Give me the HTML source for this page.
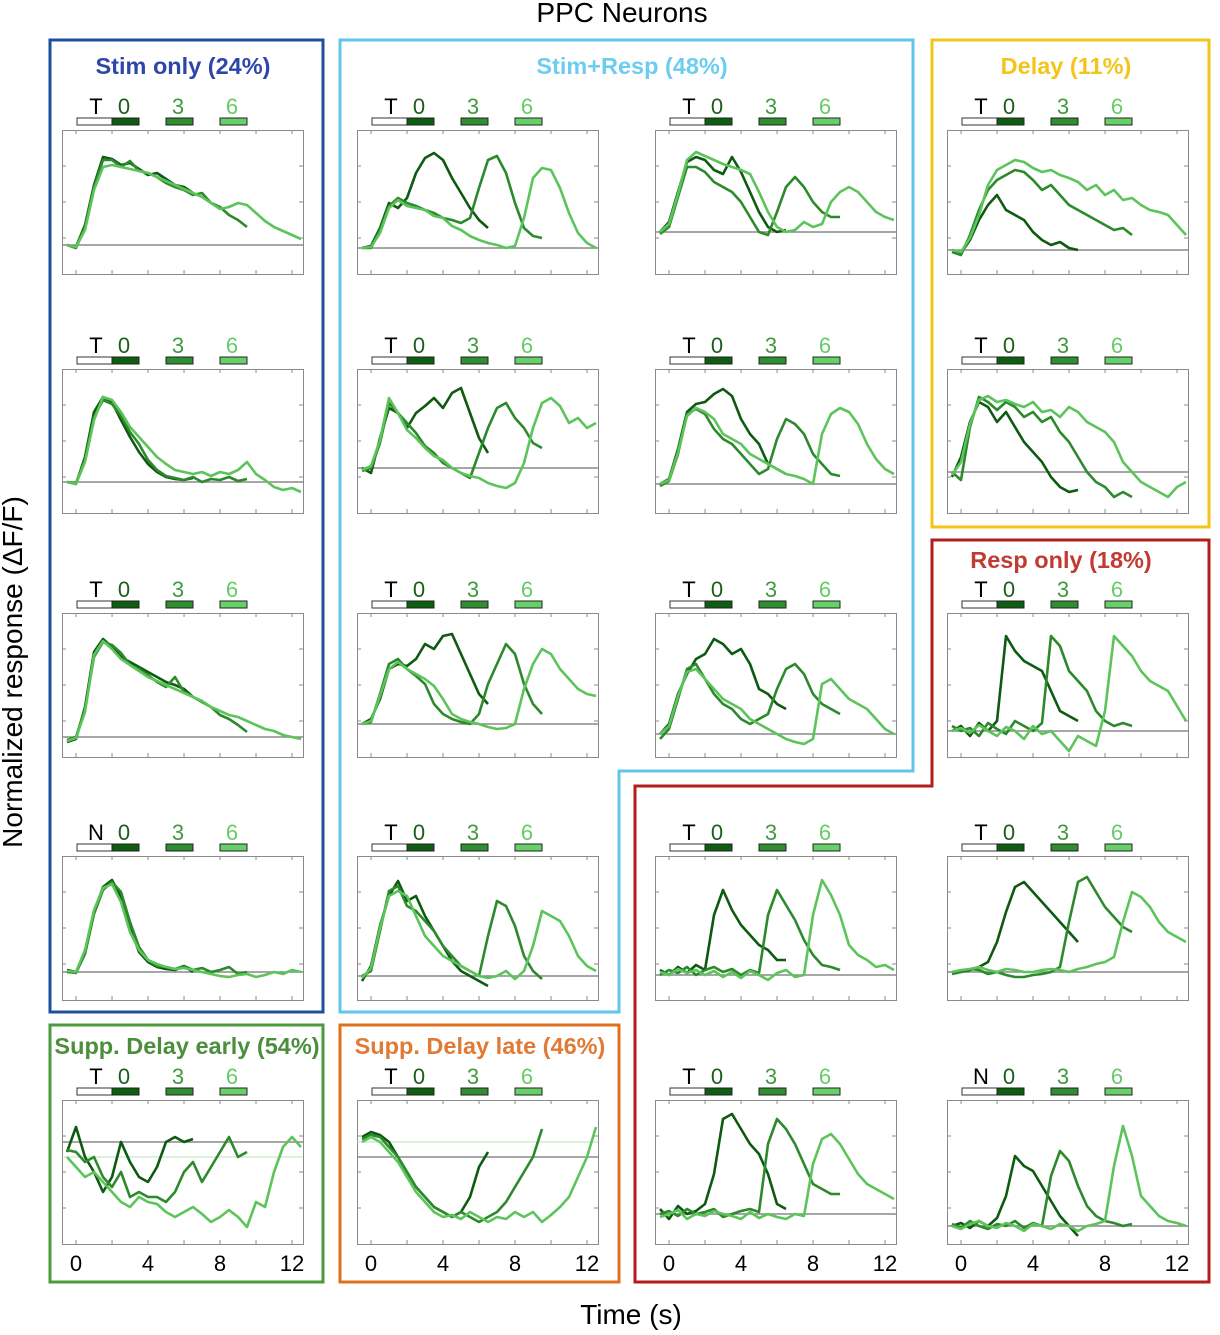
<!DOCTYPE html>
<html><head><meta charset="utf-8">
<style>
html,body{margin:0;padding:0;background:#fff;}
svg{display:block;font-family:"Liberation Sans",Arial,sans-serif;}
</style></head>
<body>
<svg id="fig" width="1220" height="1335" viewBox="0 0 1220 1335" xmlns="http://www.w3.org/2000/svg">
<text x="622" y="22" text-anchor="middle" font-size="28">PPC Neurons</text>
<text transform="translate(22,672) rotate(-90)" text-anchor="middle" font-size="28">Normalized response (ΔF/F)</text>
<text x="631" y="1324" text-anchor="middle" font-size="28">Time (s)</text>

<rect x="50" y="40" width="273" height="972" fill="none" stroke="#1d4f9c" stroke-width="3"/>
<text x="183" y="74" text-anchor="middle" font-size="23.5" font-weight="bold" fill="#2e46a8">Stim only (24%)</text>
<path d="M340,40 H913 V771 H619 V1012 H340 Z" fill="none" stroke="#62c6ea" stroke-width="3"/>
<text x="632" y="74" text-anchor="middle" font-size="23.5" font-weight="bold" fill="#6dcdf0">Stim+Resp (48%)</text>
<rect x="932" y="40" width="277" height="487" fill="none" stroke="#f3c41a" stroke-width="3"/>
<text x="1066" y="74" text-anchor="middle" font-size="23.5" font-weight="bold" fill="#f3c41a">Delay (11%)</text>
<path d="M932,540 H1209 V1282 H635 V786 H932 Z" fill="none" stroke="#b31d1d" stroke-width="3"/>
<text x="1061" y="568" text-anchor="middle" font-size="23.5" font-weight="bold" fill="#c23a32">Resp only (18%)</text>
<rect x="50" y="1025" width="273" height="257" fill="none" stroke="#4b9a3c" stroke-width="3"/>
<text x="187" y="1054" text-anchor="middle" font-size="23.5" font-weight="bold" fill="#4b8e3c">Supp. Delay early (54%)</text>
<rect x="340" y="1025" width="279" height="257" fill="none" stroke="#e0701e" stroke-width="3"/>
<text x="480" y="1054" text-anchor="middle" font-size="23.5" font-weight="bold" fill="#e07a34">Supp. Delay late (46%)</text>
<g id="panels"></g>
</svg>
<script>
// time grid: t = -0.5 + 0.5*i ; trace "0" to 6.5 s, "3" to 9.5 s, "6" to 12.5 s
const tickTimes = [0,2,4,6,8,10,12];
const tickLabels = ["0","4","8","12"];
const tickLabelTimes = [0,4,8,12];
const delays = ["0","3","6"];
// values: response above baseline (plot height = 144 units)
const a1_0=[0,-2,20,60,88,86,80,82,76,70,72,66,60,58,52];
const a1_3=[0,-3,18,58,85,85,78,84,74,72,68,62,58,55,50,52,42,38,30,25,18];
const a1_6=[0,-2,15,55,78,80,78,76,74,72,68,64,60,56,52,48,42,36,38,42,40,32,24,18,14,10,6];
const a2_0=[0,-2,25,70,85,80,62,45,30,18,10,5,3,2,4];
const a2_3=[0,-1,22,65,82,78,66,50,38,22,12,6,4,2,5,0,3,2,5,1,3];
const a2_6=[0,-2,20,62,85,82,70,55,45,35,25,18,12,10,8,10,6,10,8,12,20,8,2,-5,-8,-6,-10];
const a3_0=[-5,-2,30,85,98,90,80,75,70,65,60,55,52,48,40];
const a3_3=[-3,0,28,80,95,92,84,72,68,62,55,50,60,45,40,35,30,22,18,12,5];
const a3_6=[-4,-1,25,82,96,88,78,72,66,60,56,52,48,44,40,36,30,26,22,20,16,12,8,6,2,0,-2];
const a4_0=[2,0,20,60,85,92,75,45,20,10,5,3,2,6,0];
const a4_3=[0,-1,18,58,82,90,80,50,25,12,6,5,3,6,2,4,0,2,5,-2,0];
const a4_6=[1,0,22,62,84,88,70,40,22,12,8,5,3,4,2,0,-2,-4,-5,-3,-2,-5,-3,0,-2,2,0];
const a5_0=[-10,15,-15,-30,-50,-35,0,-20,-35,-40,-25,0,5,0,3];
const a5_3=[-8,-10,-20,-15,-35,-45,-30,-55,-50,-55,-55,-60,-50,-30,-20,-40,-25,-10,5,-15,-10];
const a5_6=[-15,-25,-35,-30,-40,-50,-60,-65,-55,-60,-62,-70,-75,-70,-65,-72,-80,-75,-68,-75,-85,-60,-65,-30,-5,5,-5];
const b1_0=[0,2,20,45,40,50,75,90,95,88,70,55,40,28,20];
const b1_3=[0,0,18,42,50,45,42,38,35,30,28,25,30,60,88,92,75,45,20,12,10];
const b1_6=[0,1,15,40,48,42,40,38,32,30,22,18,12,8,5,3,0,2,30,70,80,78,60,35,15,5,0];
const b2_0=[0,-5,30,60,55,40,55,62,70,60,75,80,55,30,15];
const b2_3=[-3,0,25,65,55,45,35,22,15,5,0,-5,-10,15,40,60,65,50,40,25,20];
const b2_6=[-2,2,28,70,55,38,30,20,12,8,0,-5,-8,-10,-15,-18,-20,-15,5,40,65,70,62,45,50,40,45];
const b3_0=[0,5,25,55,60,58,65,80,75,88,90,70,50,30,20];
const b3_3=[0,2,30,60,65,55,48,40,20,10,5,2,0,10,40,60,80,70,40,20,10];
const b3_6=[0,3,28,55,62,55,50,45,38,25,10,5,2,0,-3,-5,-4,0,35,60,75,70,55,45,35,30,28];
const b4_0=[-5,10,50,80,95,75,80,60,45,30,15,5,0,-5,-10];
const b4_3=[0,5,45,85,90,70,65,55,45,30,20,10,5,0,40,75,70,50,20,5,-3];
const b4_6=[-2,8,48,80,85,80,60,40,30,20,15,10,5,0,-2,0,5,-3,5,30,65,60,55,40,20,10,5];
const b5_0=[20,25,22,15,0,-15,-30,-40,-50,-55,-60,-55,-40,-10,5];
const b5_3=[18,22,20,10,0,-15,-30,-40,-50,-55,-60,-55,-60,-65,-60,-55,-45,-30,-15,0,28];
const b5_6=[15,20,15,5,-5,-20,-35,-45,-55,-60,-58,-62,-55,-60,-65,-60,-62,-55,-60,-55,-65,-58,-50,-40,-20,0,30];
const c1_0=[0,10,40,70,75,72,62,58,75,60,40,20,5,0,2];
const c1_3=[-2,5,35,65,65,60,50,45,40,30,15,0,-3,20,45,55,45,30,20,15,15];
const c1_6=[0,8,38,72,80,76,72,68,65,62,58,40,20,5,0,2,10,5,8,30,40,45,40,30,20,15,12];
const c2_0=[0,5,35,72,80,82,90,95,88,65,50,40,20,15,10];
const c2_3=[-2,3,30,70,75,70,55,45,40,30,20,10,15,45,65,60,50,30,20,10,8];
const c2_6=[0,4,32,68,76,72,65,50,45,40,30,25,20,15,10,8,5,0,50,70,76,72,60,40,25,15,10];
const c3_0=[0,10,40,60,75,80,95,90,80,85,70,45,40,30,25];
const c3_3=[-5,5,35,65,70,55,40,30,25,15,10,15,20,45,65,70,60,40,30,25,20];
const c3_6=[0,8,38,62,65,55,45,35,30,25,15,10,5,0,-5,-8,-10,-5,50,55,45,35,30,25,15,5,0];
const c4_0=[5,0,8,2,10,5,60,85,65,50,40,30,25,15,15];
const c4_3=[0,5,2,8,0,5,8,3,6,0,5,2,60,85,70,55,35,20,10,8,5];
const c4_6=[3,0,6,2,5,0,4,-2,3,-3,4,0,-5,2,5,-2,0,60,95,80,60,30,20,15,8,10,5];
const c5_0=[5,-5,8,0,3,10,40,95,100,85,70,60,40,10,5];
const c5_3=[0,3,-2,5,0,2,5,-3,0,3,5,2,70,95,85,70,50,30,25,20,20];
const c5_6=[-3,0,4,-5,0,-2,3,0,-2,-5,2,-4,0,-3,-5,0,-2,50,75,80,70,55,40,30,25,20,15];
const d1_0=[0,-3,10,30,45,55,40,35,30,18,10,5,8,2,0];
const d1_3=[-2,-5,15,40,60,70,75,80,78,70,60,65,55,45,40,35,30,25,20,22,15];
const d1_6=[0,-2,12,35,65,80,85,90,88,82,78,80,75,72,68,60,65,55,60,50,52,45,40,38,35,25,15];
const d2_0=[-5,15,50,70,65,50,60,45,30,20,10,-5,-15,-20,-18];
const d2_3=[0,-8,45,75,70,62,70,65,55,60,50,55,40,30,15,0,-10,-15,-25,-20,-25];
const d2_6=[-3,10,48,72,76,70,72,68,65,70,60,62,55,65,60,50,45,40,30,10,0,-10,-15,-20,-25,-15,-10];
const d3_0=[0,5,-5,8,0,10,95,80,70,65,60,40,20,15,10];
const d3_3=[5,0,3,-5,8,2,-3,10,5,0,8,95,85,60,50,40,20,10,5,8,5];
const d3_6=[0,3,-2,6,0,-5,4,0,-8,5,-3,0,-10,-20,-5,-10,-15,20,95,85,75,60,50,45,40,25,10];
const d4_0=[0,0,2,5,10,30,60,85,90,80,70,60,50,40,30];
const d4_3=[-2,0,3,2,-2,0,-3,-5,-5,-3,-2,0,5,50,90,95,80,65,55,45,40];
const d4_6=[0,2,3,5,2,0,3,2,0,0,2,3,2,0,3,5,8,10,15,50,80,75,65,50,40,35,30];
const d5_0=[0,3,-2,5,0,8,30,70,60,55,40,25,10,0,-10];
const d5_3=[2,-2,5,0,-3,2,0,5,-2,3,0,50,75,65,40,20,10,5,3,0,2];
const d5_6=[0,-3,2,5,0,-2,3,0,-5,2,0,-3,2,0,-5,0,2,5,60,100,70,30,20,10,5,3,0];
const baselines=[29,31,20,28,102, 26,45,33,24,87, 42,29,23,25,30, 24,41,26,28,18];
const refLines=[null,null,null,null,-15, null,null,null,null,15, null,null,null,null,null, null,null,null,null,null];
const cueLabels=["T","T","T","N","T", "T","T","T","T","T", "T","T","T","T","T", "T","T","T","T","N"];
const traces=[[a1_0,a1_3,a1_6],[a2_0,a2_3,a2_6],[a3_0,a3_3,a3_6],[a4_0,a4_3,a4_6],[a5_0,a5_3,a5_6],
 [b1_0,b1_3,b1_6],[b2_0,b2_3,b2_6],[b3_0,b3_3,b3_6],[b4_0,b4_3,b4_6],[b5_0,b5_3,b5_6],
 [c1_0,c1_3,c1_6],[c2_0,c2_3,c2_6],[c3_0,c3_3,c3_6],[c4_0,c4_3,c4_6],[c5_0,c5_3,c5_6],
 [d1_0,d1_3,d1_6],[d2_0,d2_3,d2_6],[d3_0,d3_3,d3_6],[d4_0,d4_3,d4_6],[d5_0,d5_3,d5_6]];

const NS="http://www.w3.org/2000/svg";
const colLeft=[62,357,655,947], rowTop=[130,369,613,856,1100], W=241, H=144;
const lineCols=["#0d5a10","#2c8a2c","#5cc45a"], barCols=["#0e5e12","#2f8f30","#68d068"], labCols=["#1b5e1b","#3f9a3f","#66cc66"];
const T0=-0.78, T1=12.61;
function el(tag,attrs,parent){const e=document.createElementNS(NS,tag);for(const k in attrs)e.setAttribute(k,attrs[k]);parent.appendChild(e);return e;}
const root=document.getElementById("panels");
for(let p=0;p<20;p++){
  const c=Math.floor(p/5), r=p%5;
  const left=colLeft[c], top=rowTop[r];
  const xs=t=>left+(t-T0)/(T1-T0)*W;
  const ys=v=>top+H-baselines[p]-v*(H/144);
  const g=el("g",{},root);
  
  
  const lg=el("g",{},g);
  
  
  const rw=el("rect",{x:left+15,y:top-12,width:35,height:7,fill:"#fff",stroke:"#333","stroke-width":1},lg);
  
  
  const cx=[left+50,left+104,left+158], lx=[left+62,left+116,left+170];
  const ct=el("text",{x:left+34,y:top-16,"font-size":22,"text-anchor":"middle",fill:"#000"},lg);
  ct.textContent=cueLabels[p];
  
  
  for(let k=0;k<3;k++){
    const b=el("rect",{x:cx[k],y:top-12,width:27,height:7,fill:barCols[k],stroke:"#222","stroke-width":1},lg);
    
    
    const t=el("text",{x:lx[k],y:top-16,"font-size":22,"text-anchor":"middle",fill:labCols[k]},lg);
    t.textContent=delays[k];
    
    
  }
  const box=el("rect",{x:left+0.5,y:top+0.5,width:W,height:H,fill:"#fff",stroke:"#8a8a8a","stroke-width":1},g);
  
  
  for(const tt of tickTimes){
    const x=xs(tt);
    el("line",{x1:x,y1:top+H,x2:x,y2:top+H-4,stroke:"#8a8a8a"},g);
    el("line",{x1:x,y1:top,x2:x,y2:top+4,stroke:"#8a8a8a"},g);
  }
  for(let k=1;k<4;k++){
    const y=top+k*H/4;
    el("line",{x1:left,y1:y,x2:left+4,y2:y,stroke:"#8a8a8a"},g);
    el("line",{x1:left+W,y1:y,x2:left+W-4,y2:y,stroke:"#8a8a8a"},g);
  }
  const bl=el("line",{x1:left,y1:ys(0),x2:left+W,y2:ys(0),stroke:"#8a8a8a","stroke-width":1.5},g);
  
  
  if(refLines[p]!==null){
    const rl=el("line",{x1:left,y1:ys(refLines[p]),x2:left+W,y2:ys(refLines[p]),stroke:"#b8e6b0","stroke-width":1},g);
    
    
  }
  for(let k=0;k<3;k++){
    const arr=traces[p][k];
    let d="";
    arr.forEach((v,i)=>{d+=(i?"L":"M")+xs(-0.5+0.5*i).toFixed(1)+","+ys(v).toFixed(1);});
    const path=el("path",{d:d,fill:"none",stroke:lineCols[k],"stroke-width":2.6,"stroke-linejoin":"round"},g);
    
    
  }
  if(r===4){
    tickLabels.forEach((lab,i)=>{
      const t=el("text",{x:xs(tickLabelTimes[i]),y:top+H+27,"font-size":22,"text-anchor":"middle"},g);
      t.textContent=lab;
      
      
    });
  }
}
</script>
</body></html>
